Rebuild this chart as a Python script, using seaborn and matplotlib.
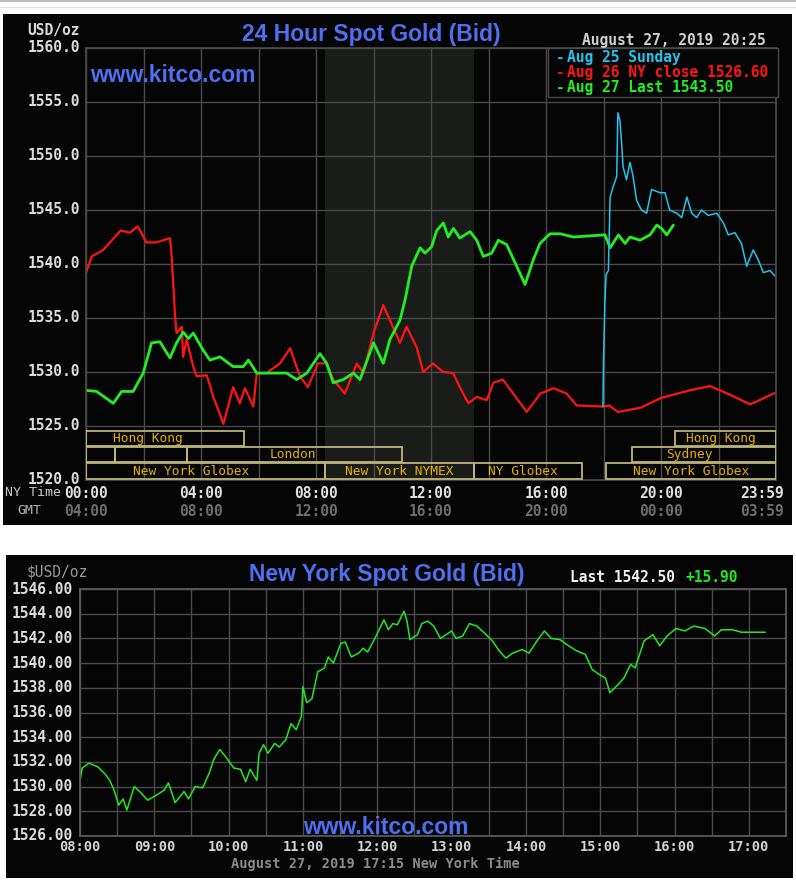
import matplotlib
matplotlib.use("Agg")
import matplotlib.pyplot as plt
from matplotlib.patches import Rectangle
from matplotlib.lines import Line2D
import seaborn as sns

sns.set_theme(style="dark")

MONO = "DejaVu Sans Mono"
SANS = "Liberation Sans"

# ── 24 hour spot gold (hours NY time, price) ────────────────────────
red_h = [0, 0.2, 0.6, 1.2, 1.53, 1.8, 2.1, 2.45, 2.92, 2.98, 3.1, 3.15, 3.33, 3.38,
         3.5, 3.73, 3.85, 4.2, 4.43, 4.78, 5.12, 5.35, 5.53, 5.82, 5.94, 6.28, 6.75,
         7.1, 7.44, 7.72, 8.07, 8.37, 8.6, 9.0, 9.42, 9.65, 10.0, 10.34, 10.57, 10.92,
         11.15, 11.5, 11.73, 12.07, 12.42, 12.77, 13.0, 13.3, 13.59, 13.94, 14.17,
         14.5, 14.86, 15.33, 15.8, 16.26, 16.72, 17.07, 17.98, 18.2, 18.5, 19.3, 20.0,
         21.0, 21.7, 22.4, 23.1, 24.0]
red_p = [1539.2, 1540.7, 1541.3, 1543.1, 1542.9, 1543.5, 1542.0, 1542.0, 1542.4, 1540.7,
         1535.1, 1533.6, 1534.2, 1531.4, 1533.0, 1530.5, 1529.6, 1529.7, 1527.7, 1525.2,
         1528.6, 1527.1, 1528.5, 1526.8, 1529.9, 1529.9, 1530.8, 1532.2, 1529.6, 1528.6,
         1530.8, 1530.8, 1529.3, 1528.0, 1530.8, 1529.9, 1533.6, 1536.2, 1534.8, 1532.7,
         1534.2, 1532.3, 1530.0, 1530.8, 1530.0, 1529.9, 1528.6, 1527.1, 1527.7, 1527.4,
         1529.0, 1529.3, 1528.0, 1526.3, 1528.0, 1528.5, 1528.0, 1526.9, 1526.8, 1526.9,
         1526.3, 1526.7, 1527.6, 1528.3, 1528.7, 1527.9, 1527.0, 1528.1]

green_h = [0, 0.37, 0.95, 1.24, 1.64, 1.99, 2.28, 2.57, 2.92, 3.15, 3.38, 3.56, 3.73,
           4.08, 4.31, 4.66, 5.12, 5.47, 5.65, 5.94, 6.4, 6.98, 7.33, 7.68, 8.14, 8.37,
           8.6, 8.95, 9.3, 9.53, 10.0, 10.34, 10.57, 10.92, 11.1, 11.33, 11.62, 11.79,
           12.02, 12.2, 12.43, 12.6, 12.78, 13.0, 13.36, 13.59, 13.82, 14.11, 14.34,
           14.63, 14.98, 15.27, 15.56, 15.79, 16.14, 16.49, 16.95, 18.05, 18.23, 18.52,
           18.75, 18.92, 19.27, 19.62, 19.85, 20.02, 20.2, 20.43]
green_p = [1528.3, 1528.2, 1527.1, 1528.2, 1528.2, 1529.9, 1532.7, 1532.8, 1531.3, 1532.7,
           1533.7, 1533.1, 1533.6, 1532.0, 1531.1, 1531.4, 1530.5, 1530.5, 1531.1, 1529.9,
           1529.9, 1529.9, 1529.3, 1529.9, 1531.7, 1530.8, 1529.0, 1529.3, 1529.9, 1529.3,
           1532.7, 1530.8, 1533.0, 1534.8, 1536.7, 1539.8, 1541.5, 1541.0, 1541.6, 1543.1,
           1543.8, 1542.5, 1543.3, 1542.4, 1543.0, 1542.2, 1540.7, 1541.0, 1542.2, 1541.8,
           1539.8, 1538.1, 1540.4, 1541.9, 1542.8, 1542.8, 1542.5, 1542.7, 1541.5, 1542.7,
           1541.9, 1542.5, 1542.2, 1542.7, 1543.6, 1543.3, 1542.7, 1543.6]

cyan_h = [17.98, 18.0, 18.05, 18.09, 18.17, 18.23, 18.34, 18.46, 18.5, 18.57, 18.63,
          18.68, 18.8, 18.92, 19.03, 19.15, 19.32, 19.5, 19.67, 19.97, 20.14, 20.3,
          20.55, 20.72, 20.9, 21.07, 21.24, 21.41, 21.64, 21.94, 22.17, 22.34, 22.57,
          22.8, 22.98, 23.21, 23.38, 23.56, 23.79, 24.0]
cyan_p = [1526.8, 1531.0, 1536.5, 1539.0, 1539.4, 1546.2, 1547.2, 1548.1, 1554.0, 1553.3,
          1551.2, 1549.0, 1547.8, 1549.4, 1548.1, 1545.9, 1545.0, 1544.7, 1546.9, 1546.6,
          1546.6, 1545.0, 1544.7, 1544.3, 1546.2, 1544.7, 1544.3, 1545.0, 1544.5, 1544.7,
          1543.8, 1542.7, 1542.9, 1541.9, 1539.8, 1541.3, 1540.4, 1539.2, 1539.4, 1538.8]

legend_labels = ["Aug 25 Sunday", "Aug 26 NY close 1526.60", "Aug 27 Last 1543.50"]
top_xticks = [0, 4, 8, 12, 16, 20, 23.5]
top_xlabels = ["00:00", "04:00", "08:00", "12:00", "16:00", "20:00", "23:59"]
gmt_labels = ["04:00", "08:00", "12:00", "16:00", "20:00", "00:00", "03:59"]

# market sessions: (row, start, end, label, label centre)
markets = [
    (0, 0, 5.5, "Hong Kong", 2.15), (0, 20.5, 24, "Hong Kong", 22.1),
    (1, 0, 1, "", 0), (1, 1, 3.5, "", 0), (1, 3.5, 11, "London", 7.2),
    (1, 19, 24, "Sydney", 21.0),
    (2, 0, 8.33, "New York Globex", 3.65), (2, 8.33, 13.5, "New York NYMEX", 10.9),
    (2, 13.5, 17.25, "NY Globex", 15.2), (2, 18.1, 24, "New York Globex", 21.05),
]
nymex_pit = (8.33, 13.5)

# ── New York spot gold ───────────────────────────────────────────────
ny_h = [8.0, 8.03, 8.12, 8.24, 8.34, 8.4, 8.46, 8.52, 8.58, 8.63, 8.73, 8.82, 8.91, 9.0,
        9.13, 9.19, 9.28, 9.4, 9.46, 9.55, 9.65, 9.74, 9.8, 9.88, 9.95, 10.07, 10.16,
        10.23, 10.29, 10.38, 10.41, 10.47, 10.53, 10.62, 10.68, 10.77, 10.84, 10.91,
        10.98, 11.0, 11.05, 11.12, 11.2, 11.29, 11.34, 11.41, 11.51, 11.57, 11.65, 11.75,
        11.81, 11.87, 11.96, 12.09, 12.15, 12.21, 12.27, 12.36, 12.4, 12.44, 12.54, 12.6,
        12.68, 12.76, 12.85, 13.0, 13.06, 13.15, 13.24, 13.34, 13.43, 13.55, 13.64, 13.73,
        13.82, 13.95, 14.04, 14.16, 14.25, 14.34, 14.46, 14.55, 14.68, 14.8, 14.89, 14.98,
        15.07, 15.13, 15.23, 15.32, 15.41, 15.47, 15.59, 15.71, 15.8, 15.9, 16.02, 16.14,
        16.26, 16.41, 16.54, 16.63, 16.78, 16.9, 16.99, 17.22]
ny_p = [1530.5, 1531.5, 1531.9, 1531.6, 1531.0, 1530.5, 1529.7, 1528.5, 1529.0, 1528.1,
        1530.0, 1529.5, 1528.9, 1529.2, 1529.7, 1530.3, 1528.7, 1529.6, 1529.0, 1530.0,
        1529.9, 1531.1, 1532.2, 1533.0, 1532.5, 1531.5, 1531.4, 1530.4, 1531.4, 1530.5,
        1532.7, 1533.4, 1532.7, 1533.5, 1533.2, 1533.8, 1535.1, 1534.6, 1535.7, 1538.1,
        1536.8, 1537.1, 1539.3, 1539.6, 1540.5, 1540.0, 1541.6, 1541.7, 1540.5, 1540.8,
        1541.2, 1540.9, 1541.9, 1543.5, 1542.7, 1543.2, 1543.1, 1544.2, 1543.4, 1541.9,
        1542.3, 1543.2, 1543.4, 1543.0, 1542.0, 1542.6, 1542.0, 1542.2, 1543.2, 1543.0,
        1542.5, 1541.8, 1541.0, 1540.4, 1540.8, 1541.1, 1540.8, 1541.9, 1542.6, 1542.0,
        1541.9, 1541.5, 1541.0, 1540.7, 1539.5, 1539.1, 1538.8, 1537.6, 1538.2, 1538.8,
        1539.9, 1539.6, 1541.8, 1542.3, 1541.4, 1542.2, 1542.8, 1542.6, 1543.0, 1542.8,
        1542.2, 1542.7, 1542.7, 1542.5, 1542.5, 1542.5]
ny_xticks = [8, 9, 10, 11, 12, 13, 14, 15, 16, 17]
ny_yticks = list(range(1526, 1547, 2))

W, H = 796, 882
BLUE = "#4d6ff0"
GRID = "#4a4a4a"


def fx(x):
    return x / W


def fy(y):
    return 1 - y / H


fig = plt.figure(figsize=(W / 100, H / 100), dpi=100, facecolor="white")

# thin grey strip at the very top
fig.add_artist(Line2D([0, 1], [fy(1), fy(1)], color="#bdbdbd", lw=1.5))
fig.add_artist(Line2D([0, 1], [fy(7), fy(7)], color="#e2e2e2", lw=1))

# black panels
fig.add_artist(Rectangle((fx(3), fy(525)), fx(789), (525 - 14) / H,
                         facecolor="#050505", edgecolor="none", zorder=0))
fig.add_artist(Rectangle((fx(6), fy(878)), fx(787), (878 - 555) / H,
                         facecolor="#050505", edgecolor="none", zorder=0))

# ── Top chart ────────────────────────────────────────────────────────
ax = fig.add_axes([fx(86), fy(480), (776 - 86) / W, (480 - 48) / H])
ax.set_facecolor("#050505")
ax.axvspan(*nymex_pit, color="#1a1c19", zorder=0.1, lw=0)
sns.lineplot(x=red_h, y=red_p, ax=ax, color="#ff1414", lw=1.6, sort=False, legend=False)
sns.lineplot(x=green_h, y=green_p, ax=ax, color="#22ee22", lw=2.0, sort=False, legend=False)
sns.lineplot(x=cyan_h, y=cyan_p, ax=ax, color="#22c4f0", lw=1.1, sort=False, legend=False)
ax.set_xlim(0, 24)
ax.set_ylim(1520, 1560)
ax.set_xticks(range(0, 25, 2))
ax.set_yticks(range(1520, 1561, 5))
ax.grid(True, color=GRID, lw=1)
ax.tick_params(length=0, labelbottom=False, labelleft=False)
ax.set_xlabel("")
ax.set_ylabel("")
for s in ax.spines.values():
    s.set_color(GRID)

for v in range(1520, 1561, 5):
    ax.text(-6 / 690, v, f"{v:.1f}", transform=ax.get_yaxis_transform(), ha="right",
            va="center", color="#dcdcdc", fontsize=10.5, family=MONO, weight="bold")
for h, lab, g in zip(top_xticks, top_xlabels, gmt_labels):
    ax.text(h, -13 / 432, lab, transform=ax.get_xaxis_transform(), ha="center",
            va="center", color="#e0e0e0", fontsize=10.5, family=MONO, weight="bold")
    ax.text(h, -31 / 432, g, transform=ax.get_xaxis_transform(), ha="center",
            va="center", color="#6e6e6e", fontsize=10.5, family=MONO, weight="bold")

# market session boxes
row_y = [(1523.15, 1524.55), (1521.65, 1523.05), (1520.1, 1521.55)]
for row, x0, x1, lab, lx in markets:
    y0, y1 = row_y[row]
    ax.add_patch(Rectangle((x0, y0), x1 - x0, y1 - y0, fill=False,
                           edgecolor="#bdb57a", lw=1.3, zorder=3))
    if lab:
        ax.text(lx, (y0 + y1) / 2, lab, ha="center", va="center", color="#e8b000",
                fontsize=9.3, family=MONO, zorder=4)

# legend box
ax.add_patch(Rectangle((16.07, 1555.46), 8.0, 4.54, facecolor="#050505",
                       edgecolor=GRID, lw=1, zorder=5, clip_on=False))
for lab, col, yv in zip(legend_labels, ["#22c4f0", "#ff1414", "#22ee22"],
                        [1559.15, 1557.75, 1556.3]):
    ax.text(16.35, yv, "-", color=col, ha="left", va="center", fontsize=10.5,
            family=MONO, weight="bold", zorder=6)
    ax.text(16.73, yv, lab, color=col, ha="left", va="center", fontsize=10.5,
            family=MONO, weight="bold", zorder=6)

fig.text(fx(371), fy(34), "24 Hour Spot Gold (Bid)", ha="center", va="center",
         color=BLUE, fontsize=16.5, family=SANS, weight="bold")
fig.text(fx(90), fy(75), "www.kitco.com", ha="left", va="center", color=BLUE,
         fontsize=16.5, family=SANS, weight="bold")
fig.text(fx(766), fy(40), "August 27, 2019 20:25", ha="right", va="center",
         color="#d0d0d0", fontsize=10.5, family=MONO, weight="bold")
fig.text(fx(80), fy(31), "USD/oz", ha="right", va="center", color="#d8d8d8",
         fontsize=10.5, family=MONO, weight="bold")
fig.text(fx(5), fy(493), "NY Time", ha="left", va="center", color="#c8c8c8",
         fontsize=9.5, family=MONO)
fig.text(fx(17), fy(511), "GMT", ha="left", va="center", color="#b4b4b4",
         fontsize=9.5, family=MONO)

# ── Bottom chart ─────────────────────────────────────────────────────
bx = fig.add_axes([fx(80), fy(836), (786 - 80) / W, (836 - 589) / H])
bx.set_facecolor("#050505")
sns.lineplot(x=ny_h, y=ny_p, ax=bx, color="#22e822", lw=1.1, sort=False, legend=False)
bx.set_xlim(8, 17.5)
bx.set_ylim(1526, 1546)
bx.set_xticks([8 + 0.5 * i for i in range(20)])
bx.set_yticks(ny_yticks)
bx.grid(True, color=GRID, lw=1)
bx.tick_params(length=0, labelbottom=False, labelleft=False)
bx.set_xlabel("")
bx.set_ylabel("")
for s in bx.spines.values():
    s.set_color("#5a5a5a")
    s.set_linewidth(1.3)

for v in ny_yticks:
    bx.text(-7 / 706, v, f"{v:.2f}", transform=bx.get_yaxis_transform(), ha="right",
            va="center", color="#dcdcdc", fontsize=10.5, family=MONO, weight="bold")
for h in ny_xticks:
    bx.text(h, -11 / 247, f"{h:02d}:00", transform=bx.get_xaxis_transform(),
            ha="center", va="center", color="#d4d4d4", fontsize=9.8, family=MONO,
            weight="bold")

fig.text(fx(387), fy(575), "New York Spot Gold (Bid)", ha="center", va="center",
         color=BLUE, fontsize=16.5, family=SANS, weight="bold")
fig.text(fx(386), fy(827), "www.kitco.com", ha="center", va="center", color=BLUE,
         fontsize=16.5, family=SANS, weight="bold")
fig.text(fx(88), fy(572), "$USD/oz", ha="right", va="center", color="#9a9a9a",
         fontsize=10.5, family=MONO)
fig.text(fx(570), fy(578), "Last 1542.50", ha="left", va="center", color="#f0f0f0",
         fontsize=10.5, family=MONO, weight="bold")
fig.text(fx(686), fy(578), "+15.90", ha="left", va="center", color="#22e822",
         fontsize=10.5, family=MONO, weight="bold")
fig.text(fx(375), fy(864), "August 27, 2019 17:15 New York Time", ha="center",
         va="center", color="#8c8c8c", fontsize=9.8, family=MONO, weight="bold")

fig.savefig("out.png", dpi=100, facecolor="white")
